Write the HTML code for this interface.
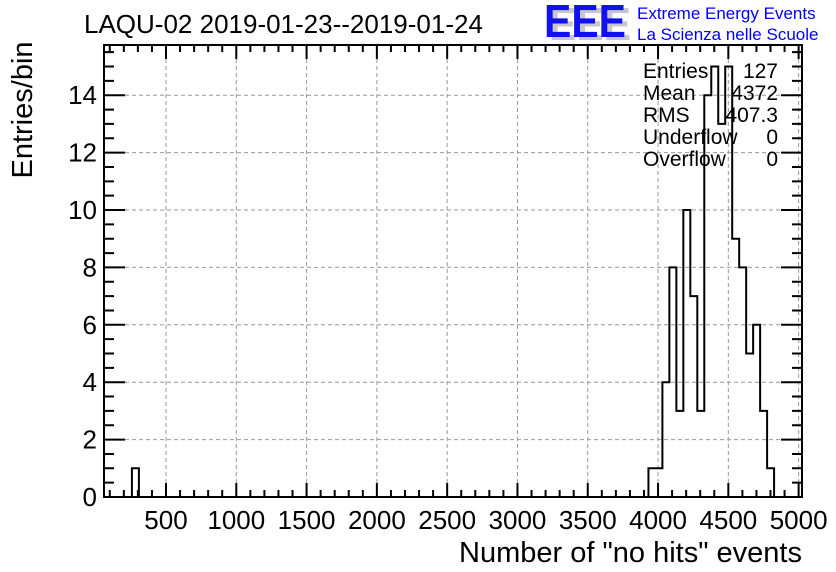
<!DOCTYPE html>
<html><head><meta charset="utf-8"><style>
html,body{margin:0;padding:0;background:#fff;}
svg{display:block;font-family:"Liberation Sans",Arial,sans-serif;}
</style></head><body>
<svg id="chart" width="836" height="572" viewBox="0 0 836 572" xmlns="http://www.w3.org/2000/svg">
<rect x="0" y="0" width="836" height="572" fill="#fff"/>
<g id="grid"></g>
<g id="bars"></g>
<g id="axes"></g>
<text x="84" y="33" font-size="26" fill="#000">LAQU-02 2019-01-23--2019-01-24</text>
<g>
<text x="549" y="40" font-size="46" font-weight="bold" fill="#c8c8c8" textLength="82" lengthAdjust="spacingAndGlyphs">EEE</text>
<text x="544" y="37" font-size="46" font-weight="bold" fill="#1010f0" textLength="82" lengthAdjust="spacingAndGlyphs">EEE</text>
<text x="637" y="19" font-size="17" fill="#0000ff">Extreme Energy Events</text>
<text x="637" y="40" font-size="17" fill="#0000ff">La Scienza nelle Scuole</text>
</g>
<g id="stats" font-size="21" fill="#000"></g>
<text x="0" y="0" transform="translate(32,110) rotate(-90)" text-anchor="middle" font-size="29">Entries/bin</text>
<text x="802" y="562" text-anchor="end" font-size="29">Number of "no hits" events</text>
</svg>
<script>
const binMin = 59;
const binMax = 5024;
const nBins = 100;
const binCounts = {4:1, 78:1, 79:1, 80:4, 81:8, 82:3, 83:10, 84:7, 85:3, 86:14, 87:15, 88:13, 89:15, 90:9, 91:8, 92:5, 93:6, 94:3, 95:1};
const xTicks = [500,1000,1500,2000,2500,3000,3500,4000,4500,5000];
const yTicks = [0,2,4,6,8,10,12,14];
const statLabels = ["Entries","Mean","RMS","Underflow","Overflow"];
const statValues = ["127","4372","407.3","0","0"];
const yMax = 15.75;

const L=104,R=802,T=45,B=497;
const ns="http://www.w3.org/2000/svg";
function X(v){return L+(v-binMin)/(binMax-binMin)*(R-L);}
function Y(v){return B-v/yMax*(B-T);}
function mk(tag,attrs,parent){const e=document.createElementNS(ns,tag);for(const k in attrs)e.setAttribute(k,attrs[k]);parent.appendChild(e);return e;}
const grid=document.getElementById('grid'),axes=document.getElementById('axes'),bars=document.getElementById('bars'),stats=document.getElementById('stats');

xTicks.forEach(v=>{const x=X(v);if(x<R-1){const g=mk('line',{x1:x,x2:x,y1:T,y2:B,stroke:'#999','stroke-dasharray':'4,3','stroke-width':1},grid);

}
const t=mk('text',{x:x,y:B+32,'text-anchor':'middle','font-size':26},axes);t.textContent=v;

});
yTicks.forEach(v=>{const y=Y(v);if(v>0){const g=mk('line',{x1:L,x2:R,y1:y,y2:y,stroke:'#999','stroke-dasharray':'4,3','stroke-width':1},grid);

}
const t=mk('text',{x:L-7,y:y+9,'text-anchor':'end','font-size':26},axes);t.textContent=v;

});

let d='';
for(let v=100;v<=5000;v+=100){const x=X(v);if(x<=L||x>=R)continue;const len=(v%500===0)?14:7;d+=`M${x},${B}V${B-len}M${x},${T}V${T+len}`;}
for(let v=0.5;v<yMax;v+=0.5){const y=Y(v);const len=(v%2===0)?21:10;d+=`M${L},${y}H${L+len}M${R},${y}H${R-len}`;}
const tk=mk('path',{d:d,stroke:'#000','stroke-width':2,fill:'none'},axes);



const w=(binMax-binMin)/nBins;
let p=`M${X(binMin)},${Y(0)}`;let prev=0;
for(let k=0;k<nBins;k++){const c=binCounts[k]||0;const x0=X(binMin+k*w);if(c!==prev){p+=`H${x0}V${Y(c)}`;prev=c;}}
p+=`H${X(binMax)}V${Y(0)}`;
const h=mk('path',{d:p,stroke:'#000','stroke-width':2,fill:'none'},bars);



const fr=mk('rect',{x:L,y:T,width:R-L,height:B-T,fill:'none',stroke:'#000','stroke-width':2},axes);



statLabels.forEach((s,i)=>{const y=78+i*22;
const a=mk('text',{x:643,y:y},stats);a.textContent=s;


const b=mk('text',{x:778,y:y,'text-anchor':'end'},stats);b.textContent=statValues[i];

});
</script>
</body></html>
